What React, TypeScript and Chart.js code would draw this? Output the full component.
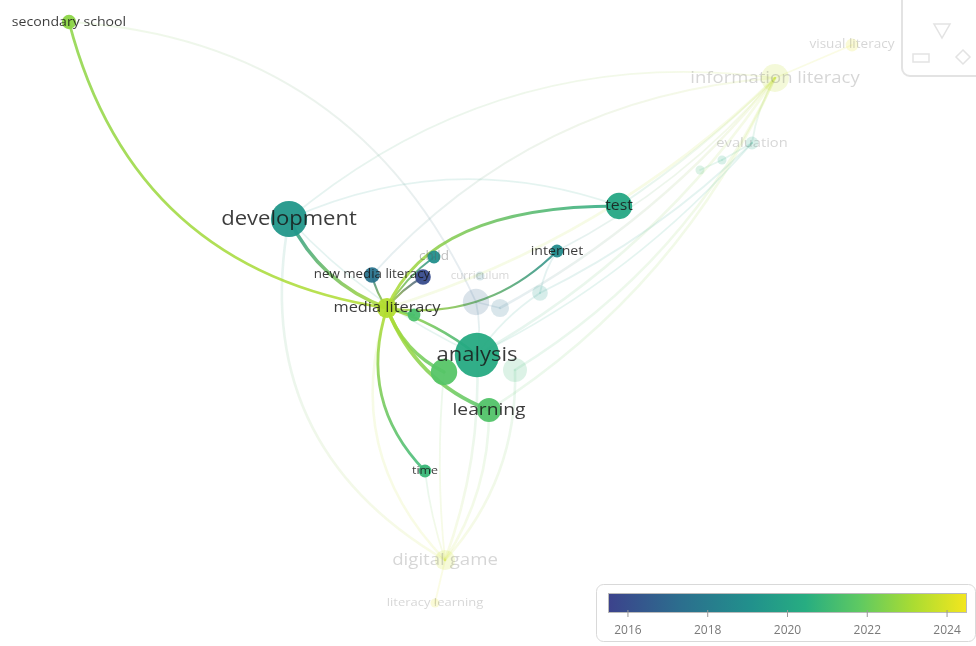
import React, { useEffect, useRef } from "react";
import { Chart, registerables } from "chart.js";
Chart.register(...registerables);

// ---------- DATA ----------
const labels = [
  "secondary school", "development", "new media literacy", "", "child",
  "media literacy", "", "analysis", "", "learning",
  "time", "test", "internet", "", "",
  "", "", "information literacy", "visual literacy", "evaluation",
  "", "", "digital game", "literacy learning", "curriculum",
];
const nodeX = [
  -4.19, -1.99, -1.16, -0.65, -0.54,
  -1.01, -0.74, -0.11, -0.44, 0.01,
  -0.63, 1.31, 0.69, -0.12, 0.12,
  0.52, 0.27, 2.87, 3.64, 2.64,
  2.34, 2.12, -0.43, -0.53, -0.08,
];
const nodeY = [
  3.01, 1.04, 0.48, 0.46, 0.66,
  0.15, 0.08, -0.32, -0.49, -0.87,
  -1.48, 1.17, 0.72, 0.21, 0.15,
  0.30, -0.47, 2.45, 2.78, 1.80,
  1.63, 1.53, -2.37, -2.80, 0.47,
];
const weights = [
  5, 32, 6, 6, 4,
  10, 4, 48, 17, 14,
  4, 17, 4, 17, 8,
  6, 14, 19, 4, 4,
  2, 2, 10, 2, 2,
];
const avgYear = [
  2022.6, 2019.4, 2017.6, 2015.9, 2019.0,
  2023.3, 2021.3, 2020.3, 2021.6, 2021.5,
  2020.9, 2020.1, 2018.8, 2016.8, 2017.5,
  2019.5, 2021.0, 2023.6, 2024.2, 2020.0,
  2020.5, 2021.0, 2023.8, 2024.2, 2018.0,
];
const selected = [
  1, 1, 1, 1, 1,
  1, 1, 1, 1, 1,
  1, 1, 1, 0, 0,
  0, 0, 0, 0, 0,
  0, 0, 0, 0, 0,
];
const focusLabel = "media literacy";
const linkSource = [0, 1, 2, 3, 4, 11, 12, 5, 5, 5, 5, 5,
  1, 0, 7, 9, 5, 11, 12, 16, 7, 17, 17, 19, 20, 7, 9, 10, 5, 8, 22, 16, 1, 1, 7, 7, 13, 12, 2, 1, 14, 15];
const linkTarget = [5, 5, 5, 5, 5, 5, 5, 7, 8, 9, 10, 6,
  22, 13, 17, 17, 17, 17, 17, 17, 19, 18, 19, 20, 21, 22, 22, 22, 22, 22, 23, 22, 7, 11, 13, 15, 14, 15, 17, 17, 17, 19];
const linkStrength = [3, 4, 2, 2, 2, 3, 2, 3, 4, 4, 3, 2,
  2, 1, 2, 2, 2, 1, 1, 2, 1, 1, 1, 1, 1, 2, 2, 1, 2, 1, 1, 2, 1, 1, 1, 1, 1, 1, 1, 1, 2, 1];
const yearTicks = [2016, 2018, 2020, 2022, 2024];
const yearMin = 2015.5;
const yearMax = 2024.5;

// ---------- STYLE ----------
const linkBend = [0.33, 0.2, 0.1, 0.1, 0.1, 0.3, -0.25, -0.1, 0.2, 0.22, 0.3, 0,
  0.35, -0.3, 0.12, 0.15, 0.12, 0.05, 0.1, 0.15, 0.1, 0, 0.1, 0, 0, -0.1, -0.15, 0.05, 0.3, 0.05, 0, -0.2,
  0.1, -0.2, 0.1, -0.1, 0, 0.1, -0.2, -0.22, 0.1, 0.08];
const linkSkew: Record<number, number> = { 5: 0.18 };
const dimLabels = ["child"];
const labelFont: Record<string, number> = {
  "secondary school": 12.5,
  development: 19.5,
  "new media literacy": 11.8,
  child: 12,
  "media literacy": 14.5,
  analysis: 19.5,
  learning: 17,
  time: 11,
  test: 14,
  internet: 12.5,
  "information literacy": 16.4,
  "visual literacy": 12,
  evaluation: 13,
  "digital game": 16.5,
  "literacy learning": 11.5,
  curriculum: 10.3,
};
const TEXT_STRETCH = 1.13;
const viridisStops: [number, number[]][] = [
  [0, [60, 66, 140]],
  [0.2, [44, 110, 142]],
  [0.4, [33, 145, 140]],
  [0.55, [39, 173, 129]],
  [0.7, [94, 201, 98]],
  [0.85, [170, 220, 50]],
  [1, [244, 230, 30]],
];
const FONT = "'Open Sans', 'Noto Sans', sans-serif";

function yearColor(y: number): number[] {
  const t = Math.max(0, Math.min(1, (y - yearMin) / (yearMax - yearMin)));
  for (let i = 1; i < viridisStops.length; i++) {
    const [t1, c1] = viridisStops[i];
    const [t0, c0] = viridisStops[i - 1];
    if (t <= t1) {
      const f = (t - t0) / (t1 - t0);
      return c0.map((v, k) => Math.round(v + (c1[k] - v) * f));
    }
  }
  return viridisStops[viridisStops.length - 1][1];
}
const rgba = (c: number[], a: number) => `rgba(${c[0]},${c[1]},${c[2]},${a})`;
const radiusOf = (w: number) => 3.2 * Math.sqrt(w);
const focusIndex = labels.indexOf(focusLabel);
const isHiLink = (i: number) =>
  (linkSource[i] === focusIndex || linkTarget[i] === focusIndex) &&
  !!selected[linkSource[i]] && !!selected[linkTarget[i]];

const linksPlugin = {
  id: "links",
  beforeDatasetsDraw(chart: any) {
    const { ctx } = chart;
    const xs = chart.scales.x, ys = chart.scales.y;
    ctx.save();
    ctx.lineCap = "round";
    const order = linkSource.map((_, i) => i).sort((a, b) => (isHiLink(a) ? 1 : 0) - (isHiLink(b) ? 1 : 0));
    for (const i of order) {
      const s = linkSource[i], t = linkTarget[i];
      const x0 = xs.getPixelForValue(nodeX[s]), y0 = ys.getPixelForValue(nodeY[s]);
      const x1 = xs.getPixelForValue(nodeX[t]), y1 = ys.getPixelForValue(nodeY[t]);
      const dx = x1 - x0, dy = y1 - y0;
      const mx = (x0 + x1) / 2, my = (y0 + y1) / 2;
      const b = linkBend[i] || 0;
      const k = linkSkew[i] || 0;
      const cx = mx - dy * b + dx * k, cy = my + dx * b + dy * k;
      const hi = isHiLink(i);
      const a = hi ? 0.85 : 0.12;
      const g = ctx.createLinearGradient(x0, y0, x1, y1);
      g.addColorStop(0, rgba(yearColor(avgYear[s]), a));
      g.addColorStop(1, rgba(yearColor(avgYear[t]), a));
      ctx.strokeStyle = g;
      ctx.lineWidth = hi ? 0.6 + 0.75 * linkStrength[i] : 1 + 0.8 * linkStrength[i];
      ctx.beginPath();
      ctx.moveTo(x0, y0);
      ctx.quadraticCurveTo(cx, cy, x1, y1);
      ctx.stroke();
    }
    ctx.restore();
  },
  afterDatasetsDraw(chart: any) {
    const { ctx } = chart;
    const xs = chart.scales.x, ys = chart.scales.y;
    ctx.save();
    ctx.textAlign = "center";
    ctx.textBaseline = "middle";
    labels.forEach((lab, i) => {
      if (!lab) return;
      const px = xs.getPixelForValue(nodeX[i]);
      const py = ys.getPixelForValue(nodeY[i]);
      ctx.save();
      ctx.translate(px, py);
      ctx.scale(TEXT_STRETCH, 1);
      ctx.font = `${labelFont[lab] || 11}px ${FONT}`;
      const dim = dimLabels.includes(lab);
      ctx.fillStyle = !selected[i] ? "rgba(70,70,70,0.22)" : dim ? "rgba(90,90,90,0.4)" : "rgba(25,25,25,0.85)";
      ctx.fillText(lab, 0, 0);
      ctx.restore();
    });
    ctx.restore();
  },
  afterDraw(chart: any) {
    const { ctx, width: W, height: H } = chart;
    ctx.save();
    // navigation widget (top right)
    ctx.strokeStyle = "rgba(200,200,200,0.5)";
    ctx.lineWidth = 2;
    ctx.beginPath();
    (ctx as any).roundRect(W - 74, -14, 90, 90, 8);
    ctx.stroke();
    ctx.lineWidth = 1.5;
    ctx.beginPath();
    ctx.moveTo(W - 42, 24); ctx.lineTo(W - 26, 24); ctx.lineTo(W - 34, 38); ctx.closePath();
    ctx.stroke();
    ctx.beginPath();
    ctx.rect(W - 63, 54, 16, 8);
    ctx.stroke();
    ctx.beginPath();
    ctx.moveTo(W - 13, 50); ctx.lineTo(W - 6, 57); ctx.lineTo(W - 13, 64); ctx.lineTo(W - 20, 57); ctx.closePath();
    ctx.stroke();

    // colour bar legend
    const bx = W - 380, by = H - 62, bw = 379, bh = 57;
    ctx.fillStyle = "#ffffff";
    ctx.strokeStyle = "#d9d9d9";
    ctx.lineWidth = 1;
    ctx.beginPath();
    (ctx as any).roundRect(bx + 0.5, by + 0.5, bw, bh, 7);
    ctx.fill();
    ctx.stroke();
    const gx = bx + 12, gy = by + 9, gw = bw - 20, gh = 20;
    const grad = ctx.createLinearGradient(gx, 0, gx + gw, 0);
    viridisStops.forEach(([t, c]) => grad.addColorStop(t, rgba(c, 1)));
    ctx.fillStyle = grad;
    ctx.fillRect(gx, gy, gw, gh);
    ctx.strokeStyle = "#bbbbbb";
    ctx.strokeRect(gx + 0.5, gy + 0.5, gw - 1, gh - 1);
    ctx.fillStyle = "#7a7a7a";
    ctx.font = `12px ${FONT}`;
    ctx.textAlign = "center";
    ctx.textBaseline = "middle";
    yearTicks.forEach((yr) => {
      const tx = gx + ((yr - yearMin) / (yearMax - yearMin)) * gw;
      ctx.strokeStyle = "#999";
      ctx.beginPath();
      ctx.moveTo(tx, gy + gh - 3);
      ctx.lineTo(tx, gy + gh + 4);
      ctx.stroke();
      ctx.fillText(String(yr), tx, gy + gh + 18);
    });
    ctx.restore();
  },
};

export default function App() {
  const ref = useRef<HTMLCanvasElement | null>(null);
  useEffect(() => {
    if (!ref.current) return;
    const colors = avgYear.map((y, i) => rgba(yearColor(y), selected[i] ? 0.95 : 0.18));
    // the bubble controller pads the chart area by the largest radius; widen the scales to compensate
    const pad = Math.max(...weights.map(radiusOf)) / 100;
    const chart = new Chart(ref.current, {
      type: "bubble",
      data: {
        datasets: [
          {
            data: nodeX.map((x, i) => ({ x, y: nodeY[i], r: radiusOf(weights[i]) })),
            backgroundColor: colors,
            borderWidth: 0,
            hoverRadius: 0,
            clip: false as any,
          },
        ],
      },
      options: {
        animation: false,
        responsive: false,
        devicePixelRatio: 1,
        layout: { padding: 0 },
        events: [],
        scales: {
          x: { type: "linear", min: -4.88 + pad, max: 4.88 - pad, display: false },
          y: { type: "linear", min: -3.23 + pad, max: 3.23 - pad, display: false },
        },
        plugins: { legend: { display: false }, tooltip: { enabled: false } },
      },
      plugins: [linksPlugin],
    });
    return () => chart.destroy();
  }, []);
  return (
    <div style={{ position: "fixed", left: 0, top: 0, width: 976, height: 646, background: "#fff" }}>
      <canvas ref={ref} width={976} height={646} />
    </div>
  );
}
